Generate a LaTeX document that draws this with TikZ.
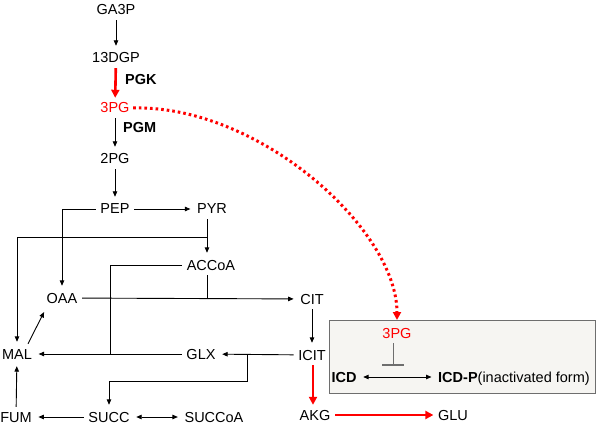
\documentclass[tikz,border=0pt]{standalone}
\usepackage{fontspec}
\setmainfont{Liberation Sans}
\usetikzlibrary{arrows.meta,calc}
\definecolor{boxfill}{HTML}{F6F5F2}
\definecolor{boxline}{HTML}{6E6E6E}
\begin{document}
\begin{tikzpicture}[x=1pt,y=-1pt,
  every node/.style={font=\fontsize{14.5}{16}\selectfont, inner sep=4.5pt, text height=10.5pt, text depth=0.5pt},
  enz/.style={font=\fontsize{14.5}{16}\selectfont\bfseries, anchor=west, inner sep=0pt},
  arr/.style={line width=0.9pt, -{Triangle[length=5.5pt,width=4.5pt]}, shorten >=2pt},
  barr/.style={line width=0.9pt, {Triangle[length=5.5pt,width=4.5pt]}-{Triangle[length=5.5pt,width=4.5pt]}, shorten >=2pt, shorten <=2pt},
  plain/.style={line width=0.9pt},
  redarr/.style={red, line width=2.6pt, -{Triangle[length=8pt,width=8pt]}},
  reddot/.style={red, line width=3pt, dash pattern=on 2.6pt off 3pt, -{Triangle[length=8pt,width=8pt]}},
]
\useasboundingbox (0,0) rectangle (600,425);

% glycolysis
\node (ga3p) at (116,10) {GA3P};
\node (dgp) at (116,58) {13DGP};
\node[enz] (pgk) at (125,80) {PGK};
\node[red] (pg3) at (115,108) {3PG};
\node[enz] (pgm) at (123,128) {PGM};
\node (pg2) at (115,159) {2PG};
\node (pep) at (115,209) {PEP};
\node (pyr) at (212,209) {PYR};
\node (accoa) at (211,265) {ACCoA};
\node (oaa) at (62,298) {OAA};
\node (cit) at (312,299) {CIT};
\node (mal) at (17,354) {MAL};
\node (glx) at (201,354) {GLX};
\node (icit) at (312,355) {ICIT};
\node (fum) at (16,417) {FUM};
\node (succ) at (109,417) {SUCC};
\node (succoa) at (214,417) {SUCCoA};
\node (akg) at (315,415) {AKG};
\node (glu) at (453,415) {GLU};

% box
\node[draw=boxline, fill=boxfill, line width=1pt, minimum width=266pt, minimum height=73pt, inner sep=0pt, text height=, text depth=, anchor=north west] (box) at (329,320) {};
\node[red] (boxpg) at (397,333) {3PG};
\node[font=\fontsize{14.5}{16}\selectfont\bfseries] (icd) at (344,377) {ICD};
\node[anchor=west] (icdp) at (433.5,377) {{\bfseries ICD-P}(inactivated form)};

% coordinates
\coordinate (j1) at (207,237);
\coordinate (j2) at (207,298);
\coordinate (j3) at (110,354);
\coordinate (j4) at (247,354);
\coordinate (j5) at (247,381);
\coordinate (tb) at (393,365);

% connectors
\draw[arr] (ga3p) -- (dgp);
\draw[redarr] (dgp) -- (pg3);
\draw[arr] (pg3) -- (pg2);
\draw[arr] (pg2) -- (pep);
\draw[arr] (pep) -- (pyr);
\draw[arr] (pep.west) -| (oaa.north);
\draw[arr] (j1 |- pyr.south) -- (j1 |- accoa.north);
\draw[arr] (j1) -| (mal.north);
\draw[plain] (j2 |- accoa.south) -- (j2);
\draw[arr] (oaa) -- (cit);
\draw[arr] ([xshift=11pt]mal.north) -- ([xshift=-17pt,yshift=-2pt]oaa.south);
\draw[plain] (accoa.west) -| (j3);
\draw[arr] (glx) -- (mal);
\draw[arr] (icit) -- (glx);
\draw[arr] (j4) -- (j5) -| (succ.north);
\draw[arr] (cit) -- (icit);
\draw[redarr] ([xshift=1pt]icit.south) -- ([xshift=1pt]icit.south |- akg.north);
\draw[redarr] (akg) -- (glu);
\draw[arr] (fum) -- (mal);
\draw[arr] (succ) -- (fum);
\draw[barr] (succ) -- (succoa);

% box contents
\draw[boxline, line width=1pt] (tb |- boxpg.south) -- (tb);
\draw[boxline, line width=1.2pt] ([xshift=-11pt]tb) -- ([xshift=11pt]tb);
\draw[barr] (icd) -- (icdp.west);

% dotted red
\draw[reddot] ([xshift=-1pt]pg3.east) .. controls (260,105) and (397,230) .. (boxpg.north |- box.north);
\end{tikzpicture}
\end{document}
